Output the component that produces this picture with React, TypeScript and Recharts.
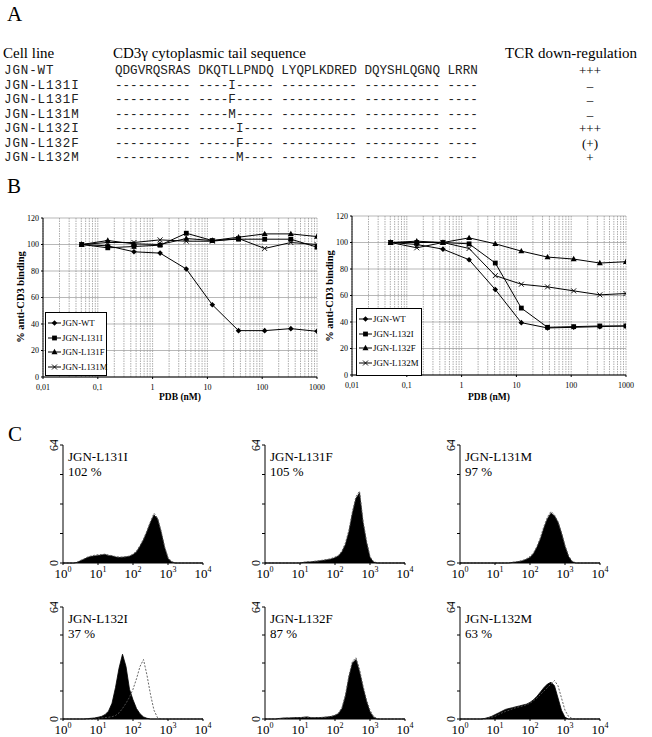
import React from 'react';
import { LineChart, Line, XAxis, YAxis, CartesianGrid, ReferenceLine, ComposedChart, Area } from 'recharts';

// ---------- Panel A ----------
const cellLines = ['JGN-WT', 'JGN-L131I', 'JGN-L131F', 'JGN-L131M', 'JGN-L132I', 'JGN-L132F', 'JGN-L132M'];
const sequences = [
  'QDGVRQSRAS DKQTLLPNDQ LYQPLKDRED DQYSHLQGNQ LRRN',
  '---------- ----I----- ---------- ---------- ----',
  '---------- ----F----- ---------- ---------- ----',
  '---------- ----M----- ---------- ---------- ----',
  '---------- -----I---- ---------- ---------- ----',
  '---------- -----F---- ---------- ---------- ----',
  '---------- -----M---- ---------- ---------- ----',
];
const downRegulation = ['+++', '–', '–', '–', '+++', '(+)', '+'];

// ---------- Panel B ----------
const pdbDoses = [0.0508, 0.152, 0.457, 1.37, 4.12, 12.3, 37.0, 111, 333, 1000];
const pdbTicks = [0.01, 0.1, 1, 10, 100, 1000];
const pdbTickLabels = ['0,01', '0,1', '1', '10', '100', '1000'];
const bindingTicks = [0, 20, 40, 60, 80, 100, 120];

const leftWT = [100, 99, 94.5, 93.5, 81.5, 54.5, 35, 35, 36.5, 34.5];
const leftL131I = [100, 97.5, 98.5, 99.5, 108.5, 103, 104, 104, 104, 98];
const leftL131F = [100, 103, 100.5, 100, 104.5, 103, 105.5, 108, 108, 106];
const leftL131M = [100, 101.5, 101.5, 103.5, 102.5, 102.5, 104.5, 97, 101.5, 100];

const rightWT = [100, 98.5, 95, 87, 64.5, 39.5, 35.5, 36, 36.5, 37];
const rightL132I = [100, 100, 100, 99, 84.5, 50.5, 36, 36.5, 37, 37];
const rightL132F = [100, 101, 100, 103.5, 99, 93.5, 89, 87.5, 84.5, 85.5];
const rightL132M = [100, 96, 100, 95.5, 75, 68.5, 66.5, 63.5, 60.5, 61.5];

const leftSeries = [
  { key: 'wt', name: 'JGN-WT', values: leftWT, marker: 'diamond' },
  { key: 'i', name: 'JGN-L131I', values: leftL131I, marker: 'square' },
  { key: 'f', name: 'JGN-L131F', values: leftL131F, marker: 'triangle' },
  { key: 'm', name: 'JGN-L131M', values: leftL131M, marker: 'cross' },
];
const rightSeries = [
  { key: 'wt', name: 'JGN-WT', values: rightWT, marker: 'diamond' },
  { key: 'i', name: 'JGN-L132I', values: rightL132I, marker: 'square' },
  { key: 'f', name: 'JGN-L132F', values: rightL132F, marker: 'triangle' },
  { key: 'm', name: 'JGN-L132M', values: rightL132M, marker: 'cross' },
];

// ---------- Panel C ----------
const flExponents = [0, 0.1, 0.2, 0.3, 0.4, 0.5, 0.6, 0.7, 0.8, 0.9, 1.0, 1.1, 1.2, 1.3, 1.4, 1.5, 1.6, 1.7, 1.8, 1.9, 2.0,
  2.1, 2.2, 2.3, 2.4, 2.5, 2.6, 2.7, 2.8, 2.9, 3.0, 3.1, 3.2, 3.3, 3.4, 3.5, 3.6, 3.7, 3.8, 3.9, 4.0];
const flTicks = [1, 10, 100, 1000, 10000];
const flTickExponents = ['0', '1', '2', '3', '4'];
const countTicks = [0, 16, 32, 48, 64];

const h131IFilled = [0,0,0,0,0.3,1.2,2,3,3.5,3.8,4,4.3,4.6,4,3.8,3.2,3,3.1,3.3,3.6,4.5,6,9,12.5,17,22,26,24,17,8.5,2.5,0.6,0,0,0,0,0,0,0,0,0];
const h131IControl = [0,0,0,0,0.4,1.4,2.2,3.2,3.8,4.2,4.5,4.6,4.8,4.3,4,3.5,3.2,3.2,3.4,3.8,4.8,6.5,9.5,13,17.5,22.5,27,24.5,17.5,9,3,0.8,0.1,0,0,0,0,0,0,0,0];
const h131FFilled = [0,0,0,0,0,0,0,0,0,0,0,0.3,0.5,0.6,0.8,1,1.2,1.5,1.8,2.2,2.8,3.8,6,10,17,27,35,38,22,11,3,0.5,0,0,0,0,0,0,0,0,0];
const h131FControl = [0,0,0,0,0,0,0,0,0,0,0.2,0.4,0.6,0.7,0.9,1.1,1.4,1.7,2,2.5,3.2,4.2,6.5,11,18,28,36,39,23,12,3.5,0.8,0.1,0,0,0,0,0,0,0,0];
const h131MFilled = [0,0,0,0,0,0,0,0,0,0,0,0,0,0,0,0.3,0.5,0.8,1.2,2,3,5,8.5,13,19,24,27,25.5,22,16,9,3.5,0.8,0,0,0,0,0,0,0,0];
const h131MControl = [0,0,0,0,0,0,0,0,0,0,0,0,0,0,0.2,0.4,0.6,1,1.5,2.3,3.5,5.5,9,14,20,25,28,26,22.5,16.5,9.5,4,1,0.2,0,0,0,0,0,0,0];
const h132IFilled = [0,0,0,0,0,0,0,0.2,0.4,0.6,1,1.5,2.5,4.5,9,18,29,37,30,17,11,6,3,1.2,0.4,0,0,0,0,0,0,0,0,0,0,0,0,0,0,0,0];
const h132IControl = [0,0,0,0,0,0,0,0,0,0,0.3,0.5,0.8,1,1.3,2,3.5,6,9,12.5,17,23,30,34,25,14,5,0.8,0,0,0,0,0,0,0,0,0,0,0,0,0];
const h132FFilled = [0,0,0,0,0.3,0.5,0.6,0.6,0.7,0.8,0.8,1,1.2,0.8,0.7,0.8,0.8,1,1.2,1.5,2,3,6,13,24,32,34,27,18,10,4,1,0,0,0,0,0,0,0,0,0];
const h132FControl = [0,0,0,0,0.2,0.4,0.5,0.6,0.7,0.7,0.8,0.9,1,0.9,0.8,0.8,0.9,1,1.2,1.5,2.2,3.5,6.5,14,25,33,35,28.5,19,11,5,1.5,0.3,0,0,0,0,0,0,0,0];
const h132MFilled = [0,0,0,0,0,0,0,0.3,0.8,1.5,2.5,3.5,4.5,5.5,6,6.5,7,7.5,8,8.5,9.5,11,13,15.5,18,20,21,19,12,5,1,0,0,0,0,0,0,0,0,0,0];
const h132MControl = [0,0,0,0,0,0,0,0,0.5,1,1.5,2.5,3.5,4.3,5,5.8,6.5,7,7.5,8.2,9,10.5,12,14,16,18,20,22,19,12,5,1.5,0.3,0,0,0,0,0,0,0,0];

const histograms = [
  { name: 'JGN-L131I', pct: '102 %', filled: h131IFilled, control: h131IControl, row: 0, col: 0 },
  { name: 'JGN-L131F', pct: '105 %', filled: h131FFilled, control: h131FControl, row: 0, col: 1 },
  { name: 'JGN-L131M', pct: '97 %', filled: h131MFilled, control: h131MControl, row: 0, col: 2 },
  { name: 'JGN-L132I', pct: '37 %', filled: h132IFilled, control: h132IControl, row: 1, col: 0 },
  { name: 'JGN-L132F', pct: '87 %', filled: h132FFilled, control: h132FControl, row: 1, col: 1 },
  { name: 'JGN-L132M', pct: '63 %', filled: h132MFilled, control: h132MControl, row: 1, col: 2 },
];

const SERIF = '"Liberation Serif", "Times New Roman", serif';
const MONO = '"Liberation Mono", "Courier New", monospace';

function Marker({ type, cx, cy }: { type: string; cx: number; cy: number }) {
  if (type === 'diamond') {
    return <polygon points={`${cx},${cy - 2.8} ${cx + 2.8},${cy} ${cx},${cy + 2.8} ${cx - 2.8},${cy}`} fill="#000" />;
  }
  if (type === 'square') {
    return <rect x={cx - 2.4} y={cy - 2.4} width={4.8} height={4.8} fill="#000" />;
  }
  if (type === 'triangle') {
    return <polygon points={`${cx},${cy - 3.2} ${cx + 3},${cy + 2.2} ${cx - 3},${cy + 2.2}`} fill="#000" />;
  }
  return (
    <g stroke="#000" strokeWidth={0.9}>
      <line x1={cx - 2.5} y1={cy - 2.5} x2={cx + 2.5} y2={cy + 2.5} />
      <line x1={cx - 2.5} y1={cy + 2.5} x2={cx + 2.5} y2={cy - 2.5} />
    </g>
  );
}

const makeDot = (type: string) => (props: any) => {
  const { cx, cy, index } = props;
  if (cx == null || cy == null) return <g key={`d-${index}`} />;
  return (
    <g key={`d-${index}`}>
      <Marker type={type} cx={cx} cy={cy} />
    </g>
  );
};

const minorGridValues: number[] = [];
[0.01, 0.1, 1, 10, 100].forEach((d) => {
  for (let k = 1; k <= 9; k++) minorGridValues.push(+(d * k).toPrecision(3));
});
minorGridValues.push(1000);

function DosePlot({ series, left, top }: { series: any[]; left: number; top: number }) {
  const data = pdbDoses.map((d, i) => {
    const row: any = { pdb: d };
    series.forEach((s) => (row[s.key] = s.values[i]));
    return row;
  });
  return (
    <div style={{ position: 'absolute', left, top }}>
      <LineChart width={327} height={190} data={data} margin={{ top: 10, right: 10, left: 0, bottom: 0 }}>
        <CartesianGrid vertical={false} stroke="#9a9a9a" strokeWidth={0.7} />
        {minorGridValues.map((v) => (
          <ReferenceLine key={v} x={v} stroke="#8a8a8a" strokeWidth={0.7} strokeDasharray="1.5 1" ifOverflow="extendDomain" />
        ))}
        <XAxis
          dataKey="pdb"
          type="number"
          scale="log"
          domain={[0.01, 1000]}
          ticks={pdbTicks}
          allowDataOverflow
          interval={0}
          height={21}
          stroke="#000"
          tickSize={2}
          tickMargin={5}
          tick={{ fontSize: 8, fill: '#000', fontFamily: SERIF }}
          tickFormatter={(v: number) => pdbTickLabels[pdbTicks.indexOf(v)] ?? String(v)}
        />
        <YAxis
          type="number"
          domain={[0, 120]}
          ticks={bindingTicks}
          interval={0}
          width={43}
          stroke="#000"
          tickSize={2}
          tick={{ fontSize: 8, fill: '#000', fontFamily: SERIF }}
        />
        {series.map((s) => (
          <Line
            key={s.key}
            type="linear"
            dataKey={s.key}
            name={s.name}
            stroke="#000"
            strokeWidth={1}
            dot={makeDot(s.marker)}
            activeDot={false}
            isAnimationActive={false}
          />
        ))}
      </LineChart>
    </div>
  );
}

function DoseLegend({ series, left, top, width, height }: any) {
  return (
    <div
      style={{
        position: 'absolute',
        left,
        top,
        width,
        height,
        border: '1px solid #000',
        background: '#fff',
        boxSizing: 'border-box',
        padding: '3px 0 0 2px',
      }}
    >
      {series.map((s: any) => (
        <div key={s.key} style={{ display: 'flex', alignItems: 'center', height: 14.5, whiteSpace: 'nowrap' }}>
          <svg width={13} height={10} style={{ display: 'block', flex: 'none' }}>
            <line x1={0} y1={5} x2={13} y2={5} stroke="#000" strokeWidth={1} />
            <Marker type={s.marker} cx={6.5} cy={5} />
          </svg>
          <span style={{ fontFamily: SERIF, fontSize: 8.8, marginLeft: 1, lineHeight: '10px', whiteSpace: 'nowrap' }}>{s.name}</span>
        </div>
      ))}
    </div>
  );
}

const FlTick = (props: any) => {
  const { x, y, payload, index } = props;
  const idx = payload && payload.index != null ? payload.index : index;
  return (
    <text x={x} y={y + 11} textAnchor="middle" fontFamily={SERIF} fontSize={13} fill="#000">
      10
      <tspan fontSize={8} dy={-6}>
        {flTickExponents[idx]}
      </tspan>
    </text>
  );
};

const CountTick = (props: any) => {
  const { x, y, payload } = props;
  const v = payload.value;
  if (v !== 0 && v !== 64) return <g />;
  return (
    <text
      x={x}
      y={y}
      transform={`rotate(-90 ${x} ${y})`}
      textAnchor="middle"
      fontFamily={SERIF}
      fontSize={12}
      fill="#000"
    >
      {String(v)}
    </text>
  );
};

const histAxisX = [63, 265, 460];
const histRows = [
  { top: 445, plotH: 118, xAxisH: 25 },
  { top: 607, plotH: 112, xAxisH: 22 },
];

function Histogram({ h }: { h: any }) {
  const axisX = histAxisX[h.col];
  const r = histRows[h.row];
  const data = flExponents.map((e, i) => ({ fl: Math.pow(10, e), filled: h.filled[i], control: h.control[i] }));
  return (
    <>
      <div style={{ position: 'absolute', left: axisX - 30, top: r.top - 5 }}>
        <ComposedChart width={30 + 140 + 12} height={5 + r.plotH + r.xAxisH} data={data} margin={{ top: 5, right: 12, left: 0, bottom: 0 }}>
          <XAxis
            dataKey="fl"
            type="number"
            scale="log"
            domain={[1, 10000]}
            ticks={flTicks}
            allowDataOverflow
            interval={0}
            height={r.xAxisH}
            stroke="#000"
            tickSize={2}
            tick={<FlTick />}
          />
          <YAxis
            type="number"
            domain={[0, 64]}
            ticks={countTicks}
            interval={0}
            width={30}
            stroke="#000"
            tickSize={3}
            tick={<CountTick />}
          />
          <Area
            type="linear"
            dataKey="filled"
            stroke="#000"
            strokeWidth={0.8}
            fill="#000"
            fillOpacity={1}
            dot={false}
            activeDot={false}
            isAnimationActive={false}
          />
          <Line
            type="linear"
            dataKey="control"
            stroke="#555"
            strokeWidth={0.9}
            strokeDasharray="2 1.5"
            dot={false}
            activeDot={false}
            isAnimationActive={false}
          />
        </ComposedChart>
      </div>
      <div
        style={{
          position: 'absolute',
          left: axisX + 5,
          top: r.top + 4,
          fontFamily: SERIF,
          fontSize: 13,
          lineHeight: '15px',
          color: '#000',
          whiteSpace: 'nowrap',
        }}
      >
        <div>{h.name}</div>
        <div>{h.pct}</div>
      </div>
    </>
  );
}

const abs = (left: number, top: number, extra: React.CSSProperties = {}): React.CSSProperties => ({
  position: 'absolute',
  left,
  top,
  whiteSpace: 'pre',
  color: '#000',
  ...extra,
});

export default function App() {
  return (
    <div style={{ position: 'absolute', left: 0, top: 0, width: 652, height: 737, background: '#fff', overflow: 'hidden' }}>
      {/* Panel letters */}
      <div style={abs(7, 3, { fontFamily: SERIF, fontSize: 21, lineHeight: '22px' })}>A</div>
      <div style={abs(7, 175, { fontFamily: SERIF, fontSize: 21, lineHeight: '22px' })}>B</div>
      <div style={abs(8, 423, { fontFamily: SERIF, fontSize: 21, lineHeight: '22px' })}>C</div>

      {/* Panel A */}
      <div style={abs(3, 45, { fontFamily: SERIF, fontSize: 15, lineHeight: '16px' })}>Cell line</div>
      <div style={abs(113, 45, { fontFamily: SERIF, fontSize: 15, lineHeight: '16px' })}>CD3γ cytoplasmic tail sequence</div>
      <div style={abs(505, 45, { fontFamily: SERIF, fontSize: 15, lineHeight: '16px' })}>TCR down-regulation</div>
      {cellLines.map((c, i) => (
        <React.Fragment key={c}>
          <div style={abs(4, 64 + i * 14.5, { fontFamily: MONO, fontSize: 12.5, lineHeight: '14px', letterSpacing: 0.9, color: '#222' })}>{c}</div>
          <div style={abs(115, 64 + i * 14.5, { fontFamily: MONO, fontSize: 12.6, lineHeight: '14px', color: '#222' })}>{sequences[i]}</div>
          <div
            style={abs(560, 64 + i * 14.5, {
              width: 60,
              textAlign: 'center',
              fontFamily: SERIF,
              fontSize: 13,
              lineHeight: '14px',
              color: '#000',
            })}
          >
            {downRegulation[i]}
          </div>
        </React.Fragment>
      ))}

      {/* Panel B */}
      <DosePlot series={leftSeries} left={0} top={208} />
      <DosePlot series={rightSeries} left={309} top={206} />
      <DoseLegend series={leftSeries} left={45} top={312} width={62} height={64} />
      <DoseLegend series={rightSeries} left={356} top={308} width={66} height={68} />
      <div style={abs(20, 297, { fontFamily: SERIF, fontSize: 10.5, fontWeight: 'bold', transform: 'translate(-50%, -50%) rotate(-90deg)' })}>
        % anti-CD3 binding
      </div>
      <div style={abs(329, 296, { fontFamily: SERIF, fontSize: 10.5, fontWeight: 'bold', transform: 'translate(-50%, -50%) rotate(-90deg)' })}>
        % anti-CD3 binding
      </div>
      <div style={abs(180, 397, { fontFamily: SERIF, fontSize: 9.5, fontWeight: 'bold', transform: 'translate(-50%, -50%)' })}>PDB (nM)</div>
      <div style={abs(489, 397, { fontFamily: SERIF, fontSize: 9.5, fontWeight: 'bold', transform: 'translate(-50%, -50%)' })}>PDB (nM)</div>

      {/* Panel C */}
      {histograms.map((h) => (
        <Histogram key={h.name} h={h} />
      ))}
    </div>
  );
}
